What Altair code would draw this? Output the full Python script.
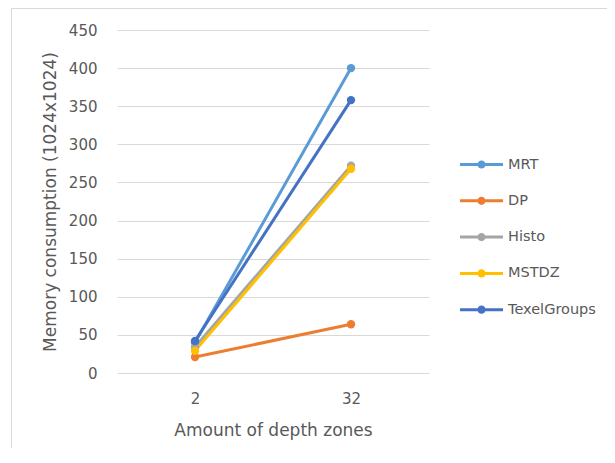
import altair as alt
import pandas as pd

zones = ["2", "32"]
series = ["MRT", "DP", "Histo", "MSTDZ", "TexelGroups"]
colors = ["#5B9BD5", "#ED7D31", "#A5A5A5", "#FFC000", "#4472C4"]
mrt = [40, 400]
dp = [21, 64]
histo = [34, 272]
mstdz = [29, 268]
texel = [42, 358]
y_ticks = [0, 50, 100, 150, 200, 250, 300, 350, 400, 450]

values = {"MRT": mrt, "DP": dp, "Histo": histo, "MSTDZ": mstdz, "TexelGroups": texel}
rows = []
for i, s in enumerate(series):
    for j, z in enumerate(zones):
        rows.append({"zone": z, "series": s, "value": values[s][j], "order": i})
df = pd.DataFrame(rows)

FONT = "DejaVu Sans"
TXT = "#595959"

x_enc = alt.X("zone:O", sort=zones, scale=alt.Scale(type="point", padding=0.5),
              axis=alt.Axis(title="Amount of depth zones", labelAngle=0, domain=False, ticks=False,
                            labelPadding=18, titlePadding=16, grid=False))
y_enc = alt.Y("value:Q", scale=alt.Scale(domain=[0, 450], nice=False),
              axis=alt.Axis(title="Memory consumption (1024x1024)", values=y_ticks, domain=False,
                            ticks=False, labelPadding=20, titlePadding=9, grid=True,
                            gridColor="#D9D9D9", gridWidth=1))
color_scale = alt.Scale(domain=series, range=colors)

sym = ("M-1,-0.07L1,-0.07L1,0.07L-1,0.07Z "
       "M0.19,0A0.19,0.19 0 1,1 -0.19,0A0.19,0.19 0 1,1 0.19,0Z")

legend = alt.Legend(title=None, orient="none", legendX=343, legendY=113,
                    symbolType=sym, symbolSize=1849, symbolStrokeWidth=0,
                    symbolOpacity=1, labelFontSize=14.5, labelColor=TXT,
                    labelFont=FONT, rowPadding=8.3, labelOffset=5)

lines = alt.Chart(df).mark_line(strokeWidth=3).encode(
    x=x_enc, y=y_enc,
    color=alt.Color("series:N", scale=color_scale, legend=legend),
    order=alt.Order("order:Q"),
)
points = alt.Chart(df).mark_point(filled=True, size=70, opacity=1).encode(
    x=x_enc, y=y_enc,
    color=alt.Color("series:N", scale=color_scale, legend=legend),
    order=alt.Order("order:Q"),
)

frame_df = pd.DataFrame({"a": [0]})
frame = alt.Chart(frame_df).mark_rect(fill=None, stroke="#D9D9D9", strokeWidth=1).encode(
    x=alt.value(-105.5), x2=alt.value(520), y=alt.value(-21.5), y2=alt.value(450)
)

chart = alt.layer(frame, lines, points).properties(
    width=312, height=343,
    background="white",
    autosize=alt.AutoSizeParams(type="none"),
    padding={"left": 109, "top": 22, "right": 178, "bottom": 75},
).configure_view(stroke=None).configure_axis(
    labelFont=FONT, titleFont=FONT, labelFontSize=15, titleFontSize=17,
    labelColor=TXT, titleColor=TXT, titleFontWeight="normal"
).configure_legend(
    symbolFillColor=None
)

chart.save("out.html", embed_options={"renderer": "svg", "actions": False})
